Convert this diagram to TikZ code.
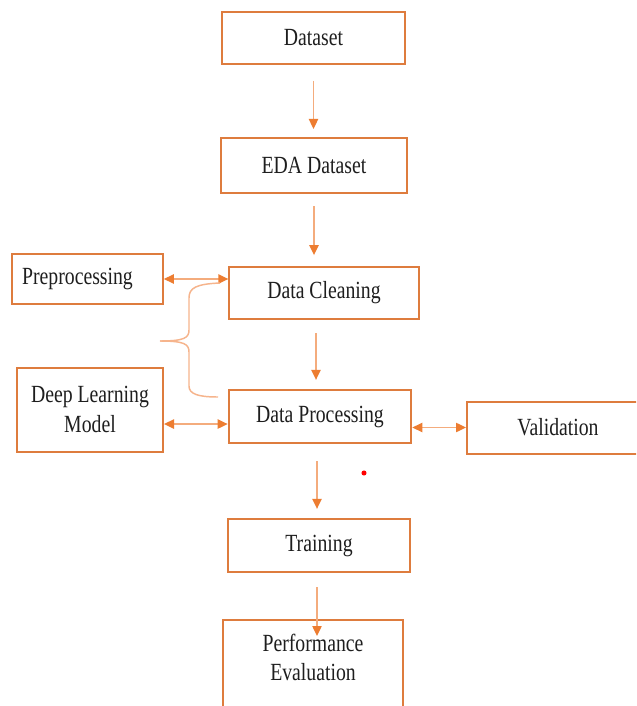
\documentclass[tikz,border=0pt]{standalone}
\usepackage{fontspec}
\setmainfont{Liberation Serif}[FakeStretch=0.8]
\usetikzlibrary{arrows.meta}
\definecolor{boxc}{RGB}{222,124,62}
\definecolor{shaftc}{RGB}{244,172,125}
\definecolor{headc}{RGB}{237,125,49}
\definecolor{bracec}{RGB}{246,180,140}
\definecolor{txtc}{RGB}{30,30,30}
\tikzset{
  box/.style={draw=boxc, line width=1.5pt, fill=white, inner sep=0pt, align=center,
    text=txtc, font=\fontsize{18.5}{22}\selectfont},
  arr/.style={draw=shaftc, line width=1pt, -{Triangle[length=7.5pt,width=7pt,color=headc]}},
  darr/.style={draw=shaftc, line width=1pt, {Triangle[length=7.5pt,width=7pt,color=headc]}-{Triangle[length=7.5pt,width=7pt,color=headc]}},
  bracestyle/.style={draw=bracec, line width=1.1pt}
}
\begin{document}
\begin{tikzpicture}[x=0.75pt,y=-0.75pt]
\path[use as bounding box] (0,0) rectangle (636,706);
\clip (0,0) rectangle (636,706);
\fill[white] (0,0) rectangle (636,706);

\node[box, minimum width=137pt, minimum height=39pt] (ds) at (313.5,38) {Dataset};
\node[box, minimum width=139pt, minimum height=40.5pt] (eda) at (314,165.5) {EDA Dataset};
\node[box, minimum width=113pt, minimum height=37.5pt] (pre) at (87.5,279) {Preprocessing\hspace{15pt}};
\node[box, minimum width=142pt, minimum height=39pt] (dc) at (324,293) {Data Cleaning};
\node[box, minimum width=109.5pt, minimum height=63pt] (dl) at (90,409.5) {Deep Learning\\Model};
\node[box, minimum width=137pt, minimum height=40pt] (dp) at (320,416.5) {Data Processing};
\node[box, minimum width=136.5pt, minimum height=39pt] (val) at (558,427.5) {Validation};
\node[box, minimum width=136pt, minimum height=40pt] (tr) at (319,545.5) {Training};
\node[box, minimum width=135pt, minimum height=78pt, anchor=north] (perf) at (313,619) {Performance\\Evaluation\\\mbox{}};

% vertical arrows
\draw[arr, shorten <=12pt, shorten >=6.4pt] (ds.south) -- (ds.south |- eda.north);
\draw[arr, shorten <=9.4pt, shorten >=8.2pt] (eda.south) -- (eda.south |- dc.north);
\draw[arr, shorten <=9.75pt, shorten >=6.75pt] ([xshift=-6pt]dc.south) -- ([xshift=-6pt]dc.south |- dp.north);
\draw[arr, shorten <=12.75pt, shorten >=6.75pt] ([xshift=-2.25pt]dp.south) -- ([xshift=-2.25pt]dp.south |- tr.north);
\draw[arr, shorten <=10.5pt, shorten >=-12.75pt] ([xshift=-1.5pt]tr.south) -- ([xshift=-1.5pt]tr.south |- perf.north);

% horizontal double arrows
\draw[darr] (pre.east) -- (pre.east -| dc.west);
\draw[darr] ([yshift=-10.9pt]dl.east) -- ([yshift=-10.9pt]dl.east -| dp.west);
\draw[darr] (val.west) -- (val.west -| dp.east);

% brace
\coordinate (bt) at (220,283);
\coordinate (bm) at (160,341);
\coordinate (bb) at (218,397);
\draw[bracestyle] (bt) .. controls (196,284) and (189,288) .. (189,298)
  -- (189,330) .. controls (189,338) and (184,341) .. (bm);
\draw[bracestyle] (bm) .. controls (184,341) and (189,344) .. (189,352)
  -- (189,386) .. controls (189,394) and (198,397) .. (bb);

% red dot
\fill[red] (364,473) circle (1.9pt);
\end{tikzpicture}
\end{document}
